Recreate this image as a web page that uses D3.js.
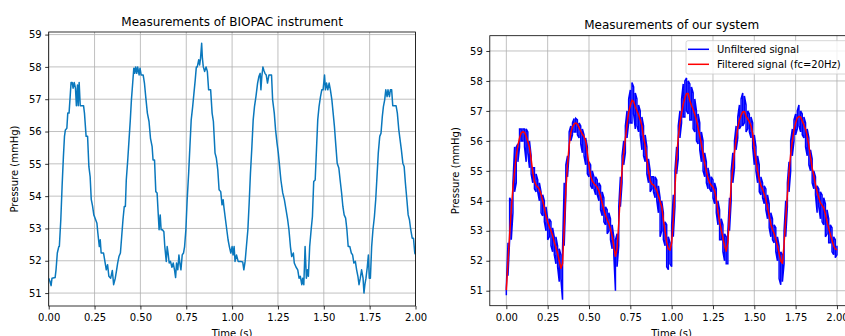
<!DOCTYPE html>
<html>
<head>
<meta charset="utf-8">
<script src="https://cdn.jsdelivr.net/npm/d3@7"></script>
<style>
  body { margin: 0; background: #fff; }
  svg { display: block; font-family: "DejaVu Sans", sans-serif; }
</style>
</head>
<body>
<div id="chart"></div>
<script>
// BIOPAC instrument
const biopacTime = [
  0.000, 0.007, 0.013, 0.018, 0.035, 0.040, 0.047, 0.055, 0.058, 0.066, 0.073, 0.080, 0.086, 0.091, 0.099,
  0.104, 0.111, 0.117, 0.122, 0.128, 0.133, 0.139, 0.146, 0.151, 0.157, 0.161, 0.166, 0.172, 0.190, 0.195,
  0.204, 0.212, 0.219, 0.226, 0.232, 0.239, 0.246, 0.254, 0.263, 0.268, 0.276, 0.281, 0.286, 0.299, 0.308,
  0.314, 0.321, 0.328, 0.338, 0.347, 0.354, 0.363, 0.370, 0.376, 0.383, 0.391, 0.398, 0.405, 0.412, 0.418,
  0.423, 0.431, 0.438, 0.445, 0.451, 0.458, 0.464, 0.469, 0.474, 0.480, 0.485, 0.493, 0.498, 0.504, 0.515,
  0.522, 0.529, 0.538, 0.547, 0.555, 0.564, 0.569, 0.577, 0.584, 0.591, 0.597, 0.602, 0.608, 0.613, 0.620,
  0.628, 0.633, 0.641, 0.646, 0.651, 0.657, 0.664, 0.672, 0.679, 0.686, 0.692, 0.697, 0.704, 0.710, 0.715,
  0.721, 0.728, 0.735, 0.741, 0.748, 0.755, 0.763, 0.770, 0.777, 0.785, 0.792, 0.799, 0.805, 0.810, 0.818,
  0.823, 0.828, 0.834, 0.838, 0.843, 0.850, 0.858, 0.865, 0.872, 0.883, 0.891, 0.898, 0.907, 0.914, 0.922,
  0.929, 0.938, 0.945, 0.951, 0.956, 0.964, 0.971, 0.978, 0.985, 0.993, 1.000, 1.005, 1.011, 1.016, 1.024,
  1.033, 1.047, 1.058, 1.064, 1.071, 1.078, 1.086, 1.093, 1.100, 1.108, 1.115, 1.122, 1.130, 1.139, 1.146,
  1.153, 1.157, 1.162, 1.168, 1.173, 1.179, 1.186, 1.193, 1.201, 1.208, 1.215, 1.221, 1.230, 1.237, 1.245,
  1.252, 1.259, 1.266, 1.276, 1.285, 1.294, 1.303, 1.310, 1.318, 1.325, 1.334, 1.339, 1.349, 1.358, 1.365,
  1.372, 1.380, 1.385, 1.391, 1.398, 1.405, 1.411, 1.416, 1.423, 1.431, 1.438, 1.445, 1.453, 1.460, 1.467,
  1.474, 1.482, 1.489, 1.496, 1.504, 1.509, 1.515, 1.522, 1.529, 1.536, 1.544, 1.551, 1.558, 1.566, 1.573,
  1.582, 1.589, 1.597, 1.604, 1.611, 1.619, 1.626, 1.633, 1.642, 1.650, 1.657, 1.664, 1.672, 1.679, 1.686,
  1.692, 1.699, 1.706, 1.714, 1.719, 1.724, 1.730, 1.737, 1.743, 1.748, 1.754, 1.761, 1.768, 1.776, 1.783,
  1.790, 1.797, 1.805, 1.812, 1.819, 1.825, 1.832, 1.838, 1.845, 1.850, 1.858, 1.863, 1.870, 1.876, 1.887,
  1.894, 1.901, 1.909, 1.916, 1.923, 1.931, 1.938, 1.945, 1.953, 1.960, 1.967, 1.974, 1.982, 1.989, 1.996,
  2.000
];
const biopacPressure = [
  51.46, 51.36, 51.23, 51.46, 51.48, 51.72, 52.24, 52.44, 52.44, 53.27, 54.30, 55.20, 55.85, 56.05, 56.10,
  56.57, 56.57, 57.08, 57.52, 57.52, 57.34, 57.52, 57.34, 56.80, 57.44, 56.80, 57.52, 56.80, 56.80, 56.57,
  55.85, 55.85, 54.92, 54.60, 53.90, 53.70, 53.42, 53.30, 53.16, 52.86, 52.44, 52.65, 52.24, 52.24, 51.93,
  51.72, 51.88, 51.52, 51.46, 51.70, 51.26, 51.46, 51.70, 51.93, 52.13, 52.24, 52.75, 53.27, 53.68, 53.68,
  54.50, 55.12, 55.74, 56.36, 56.98, 57.50, 57.96, 57.80, 58.00, 57.80, 58.00, 57.75, 57.96, 57.75, 57.75,
  57.50, 57.08, 56.57, 56.31, 55.79, 55.53, 55.12, 55.12, 54.14, 54.10, 53.47, 52.96, 53.42, 52.96, 52.96,
  52.90, 52.44, 51.98, 52.44, 52.24, 51.93, 51.98, 51.80, 51.93, 51.72, 51.48, 51.93, 51.72, 52.18, 51.93,
  51.72, 52.18, 52.24, 52.44, 52.96, 53.89, 54.70, 55.54, 56.36, 56.77, 57.19, 57.60, 58.00, 58.00, 58.22,
  58.06, 58.27, 58.73, 58.27, 58.00, 57.86, 58.00, 57.86, 57.29, 57.29, 56.57, 56.31, 55.33, 55.18, 54.81,
  54.20, 54.14, 53.73, 53.89, 53.63, 53.27, 52.96, 52.65, 52.44, 52.24, 52.44, 52.18, 52.44, 51.98, 52.18,
  51.98, 51.98, 51.96, 51.72, 51.98, 52.44, 52.96, 53.78, 54.70, 55.54, 56.36, 56.77, 57.08, 57.50, 57.70,
  57.80, 57.29, 57.70, 58.00, 57.90, 57.80, 57.75, 57.50, 57.75, 57.75, 57.75, 56.98, 56.57, 56.05, 55.64,
  55.33, 54.92, 54.50, 54.10, 53.89, 53.58, 53.27, 52.96, 52.44, 52.13, 52.24, 51.93, 51.80, 51.72, 51.46,
  51.52, 51.26, 51.46, 51.26, 52.44, 51.46, 51.72, 51.52, 52.44, 52.96, 53.37, 54.45, 54.50, 55.43, 56.36,
  56.77, 57.08, 57.29, 57.29, 57.75, 57.29, 57.50, 57.29, 57.50, 57.29, 56.98, 56.57, 56.15, 55.54, 55.02,
  54.87, 54.50, 54.10, 53.68, 53.42, 53.32, 52.96, 52.44, 52.44, 52.24, 52.18, 51.93, 51.98, 51.72, 51.52,
  51.26, 51.46, 51.72, 51.46, 51.00, 51.26, 51.46, 51.80, 52.18, 51.46, 51.46, 52.44, 52.96, 53.37, 53.89,
  54.60, 55.33, 55.85, 55.95, 56.46, 56.77, 56.98, 57.29, 57.08, 57.29, 57.08, 57.29, 57.29, 56.80, 56.80,
  56.80, 56.57, 56.05, 55.74, 55.43, 55.02, 54.92, 54.40, 53.89, 53.42, 53.27, 52.96, 52.70, 52.70, 52.24,
  52.20
];

// our system, sampled every 10 ms (0.00 .. 2.00 s)
const ourTime = d3.range(201).map(i => i / 100);
const filteredPressure = [
  51.02, 51.98, 52.88, 53.72, 54.45, 55.00, 55.50, 55.85, 56.10, 56.27,
  56.31, 56.28, 56.15, 55.98, 55.78, 55.40, 54.95, 54.65, 54.52, 54.46,
  54.38, 54.22, 54.00, 53.76, 53.50, 53.30, 53.14, 53.00, 52.84, 52.62,
  52.44, 52.25, 52.00, 51.75, 51.90, 53.10, 54.35, 55.20, 55.85, 56.27,
  56.46, 56.56, 56.60, 56.56, 56.44, 56.33, 56.22, 56.14, 56.00, 55.60,
  55.20, 54.83, 54.66, 54.58, 54.52, 54.45, 54.33, 54.15, 53.92, 53.70,
  53.52, 53.37, 53.24, 53.05, 52.82, 52.50, 52.15, 52.40, 53.25, 54.25,
  55.03, 55.60, 56.07, 56.55, 56.95, 57.18, 57.36, 57.31, 57.14, 57.00,
  56.87, 56.70, 56.50, 56.10, 55.85, 55.40, 54.98, 54.68, 54.56, 54.53,
  54.45, 54.34, 54.16, 53.98, 53.80, 53.36, 53.00, 52.62, 52.40, 52.35,
  52.60, 53.36, 54.40, 55.45, 56.12, 56.59, 56.94, 57.22, 57.43, 57.58,
  57.58, 57.34, 57.18, 57.05, 56.88, 56.70, 56.44, 56.17, 55.90, 55.56,
  55.24, 54.98, 54.75, 54.60, 54.52, 54.45, 54.32, 54.05, 53.65, 53.30,
  53.03, 52.77, 52.50, 52.32, 52.62, 53.55, 54.55, 55.10, 55.62, 56.06,
  56.43, 56.70, 56.85, 56.97, 56.98, 56.82, 56.73, 56.64, 56.50, 56.25,
  55.75, 55.36, 55.00, 54.70, 54.50, 54.38, 54.22, 54.05, 53.78, 53.50,
  53.22, 53.04, 52.90, 52.72, 52.50, 52.25, 52.00, 51.91, 52.55, 53.40,
  54.20, 54.97, 55.55, 56.00, 56.36, 56.60, 56.77, 56.81, 56.80, 56.66,
  56.53, 56.39, 56.15, 55.85, 55.45, 55.10, 54.84, 54.55, 54.30, 54.10,
  53.93, 53.85, 53.76, 53.55, 53.30, 53.08, 52.88, 52.68, 52.50, 52.40,
  52.36
];
// unfiltered signal: lowest and highest excursion seen in each 10 ms slot
const unfilteredLow = [
  50.85, 51.5, 52.7, 52.7, 53.6, 54.3, 54.6, 55.3, 55.8, 56.0,
  56.0, 55.8, 55.3, 55.6, 55.1, 54.9, 54.6, 54.4, 54.3, 54.3,
  54.0, 53.6, 53.5, 53.3, 53.0, 52.7, 52.8, 52.5, 52.3, 52.2,
  51.9, 51.8, 51.3, 51.4, 50.7, 52.5, 54.2, 54.8, 55.6, 56.0,
  56.2, 56.3, 56.3, 56.2, 56.1, 55.9, 55.6, 55.5, 55.2, 54.9,
  54.8, 54.5, 54.4, 54.4, 54.2, 54.2, 54.0, 53.7, 53.5, 53.3,
  53.2, 52.9, 53.0, 52.7, 52.4, 52.2, 51.0, 51.8, 52.5, 53.8,
  54.6, 55.2, 55.6, 56.1, 56.6, 56.6, 56.6, 56.9, 56.4, 56.5,
  56.3, 56.2, 55.7, 55.5, 55.3, 54.9, 54.6, 54.3, 54.4, 54.3,
  54.1, 54.0, 53.6, 52.8, 53.0, 52.7, 52.5, 51.8, 51.7, 51.9,
  51.8, 52.8, 53.8, 54.9, 55.4, 56.1, 56.6, 56.8, 56.8, 57.0,
  56.9, 56.7, 56.7, 56.4, 56.3, 56.0, 55.9, 55.7, 55.3, 55.0,
  54.8, 54.6, 54.4, 54.4, 54.3, 54.1, 53.9, 53.6, 53.2, 52.7,
  52.7, 52.3, 52.0, 51.9, 51.9, 53.0, 54.0, 54.6, 55.1, 55.7,
  56.1, 56.4, 56.5, 56.5, 56.6, 56.3, 56.4, 56.3, 56.1, 55.8,
  55.2, 55.0, 54.6, 54.3, 54.2, 54.1, 53.9, 53.7, 53.4, 53.1,
  52.8, 52.7, 52.6, 52.3, 52.0, 51.4, 51.2, 51.3, 51.9, 52.8,
  53.8, 54.3, 55.0, 55.5, 56.0, 56.2, 56.4, 56.5, 56.3, 56.2,
  56.1, 55.8, 55.5, 55.2, 55.0, 54.6, 54.4, 54.2, 53.6, 53.8,
  53.4, 53.3, 53.2, 52.8, 52.9, 52.6, 52.6, 52.3, 52.2, 52.1,
  52.2
];
const unfilteredHigh = [
  51.1, 52.6, 54.1, 54.0, 54.6, 55.8, 55.8, 55.9, 56.4, 56.4,
  56.4, 56.4, 56.4, 56.3, 56.0, 55.5, 55.1, 55.1, 54.9, 54.7,
  54.6, 54.3, 54.2, 54.0, 53.8, 53.4, 53.4, 53.3, 53.1, 52.8,
  52.8, 52.5, 52.4, 52.2, 52.4, 54.6, 55.2, 55.5, 56.3, 56.5,
  56.6, 56.75, 56.75, 56.7, 56.6, 56.5, 56.4, 56.2, 56.1, 55.8,
  55.3, 55.2, 55.0, 54.8, 54.8, 54.7, 54.6, 54.5, 54.3, 54.1,
  53.8, 53.7, 53.6, 53.4, 53.2, 52.8, 52.7, 52.9, 53.8, 54.8,
  55.5, 56.0, 56.5, 57.0, 57.4, 57.7, 57.95, 57.8, 57.6, 57.4,
  57.2, 57.0, 56.8, 56.5, 56.2, 55.8, 55.4, 55.0, 54.8, 54.8,
  54.8, 54.7, 54.5, 54.1, 54.0, 53.6, 53.3, 53.2, 52.8, 52.6,
  53.2, 54.2, 55.0, 55.8, 56.5, 57.0, 57.4, 57.9, 58.0, 58.1,
  58.0, 57.9, 57.8, 57.6, 57.4, 57.0, 56.9, 56.6, 56.3, 56.0,
  55.6, 55.3, 55.1, 54.8, 54.8, 54.7, 54.6, 54.4, 54.0, 53.7,
  53.4, 53.2, 52.9, 52.8, 53.0, 54.1, 55.0, 55.6, 56.0, 56.5,
  56.8, 57.2, 57.4, 57.6, 57.5, 57.2, 57.0, 56.9, 56.8, 56.6,
  56.2, 55.8, 55.5, 55.2, 54.8, 54.6, 54.5, 54.4, 54.2, 53.9,
  53.6, 53.4, 53.2, 53.1, 52.8, 52.5, 52.3, 52.2, 53.0, 54.0,
  54.6, 55.3, 56.0, 56.4, 56.7, 56.9, 57.0, 57.2, 57.0, 56.9,
  56.8, 56.6, 56.4, 56.1, 55.7, 55.4, 55.0, 54.8, 54.5, 54.4,
  54.3, 54.2, 54.1, 53.9, 53.7, 53.4, 53.2, 53.1, 52.8, 52.7,
  52.5
];

const timeTicks = [0, 0.25, 0.5, 0.75, 1, 1.25, 1.5, 1.75, 2];
const pressureTicks = [51, 52, 53, 54, 55, 56, 57, 58, 59];
const legendLabels = ['Unfiltered signal', 'Filtered signal (fc=20Hz)'];

const W = 845, H = 336;
const svg = d3.select('#chart').append('svg').attr('width', W).attr('height', H);

function panel(box, xDom, yDom, title, titleY) {
  const x = d3.scaleLinear().domain(xDom).range([box.l, box.r]);
  const y = d3.scaleLinear().domain(yDom).range([box.b, box.t]);
  const g = svg.append('g');
  const clipId = 'clip' + Math.round(box.l);
  g.append('clipPath').attr('id', clipId).append('rect')
    .attr('x', box.l).attr('y', box.t).attr('width', box.r - box.l).attr('height', box.b - box.t);

  // grid
  g.append('g').selectAll('line').data(timeTicks).enter().append('line')
    .attr('x1', d => x(d)).attr('x2', d => x(d)).attr('y1', box.t).attr('y2', box.b)
    .attr('stroke', '#b0b0b0').attr('stroke-width', 0.8);
  g.append('g').selectAll('line').data(pressureTicks).enter().append('line')
    .attr('x1', box.l).attr('x2', box.r).attr('y1', d => y(d)).attr('y2', d => y(d))
    .attr('stroke', '#b0b0b0').attr('stroke-width', 0.8);

  const plot = g.append('g').attr('clip-path', `url(#${clipId})`);

  // axes
  const xAxis = d3.axisBottom(x).tickValues(timeTicks).tickFormat(d3.format('.2f'))
    .tickSize(3.5).tickPadding(3.5);
  const yAxis = d3.axisLeft(y).tickValues(pressureTicks).tickFormat(d3.format('d'))
    .tickSize(3.5).tickPadding(3.5);
  const gx = g.append('g').attr('transform', `translate(0,${box.b})`).call(xAxis);
  const gy = g.append('g').attr('transform', `translate(${box.l},0)`).call(yAxis);
  [gx, gy].forEach(a => {
    a.select('.domain').remove();
    a.selectAll('line').attr('stroke', '#000').attr('stroke-width', 0.8);
    a.selectAll('text').attr('font-size', 10).attr('fill', '#000')
      .attr('font-family', '"DejaVu Sans", sans-serif');
  });
  gx.selectAll('text').attr('dy', null).attr('y', 15);

  g.append('rect').attr('x', box.l).attr('y', box.t)
    .attr('width', box.r - box.l).attr('height', box.b - box.t)
    .attr('fill', 'none').attr('stroke', '#000').attr('stroke-width', 0.8);

  g.append('text').attr('x', (box.l + box.r) / 2).attr('y', titleY)
    .attr('text-anchor', 'middle').attr('font-size', 12).text(title);
  g.append('text').attr('x', (box.l + box.r) / 2).attr('y', 337)
    .attr('text-anchor', 'middle').attr('font-size', 10).text('Time (s)');
  g.append('text')
    .attr('transform', `translate(${box.l - 31},${(box.t + box.b) / 2}) rotate(-90)`)
    .attr('text-anchor', 'middle').attr('font-size', 10).text('Pressure (mmHg)');
  return { x, y, plot };
}

// left: BIOPAC
const left = panel({ l: 48.7, r: 415.5, t: 32, b: 306 }, [0, 2], [50.6, 59.08],
  'Measurements of BIOPAC instrument', 25.5);
left.plot.append('path')
  .datum(d3.zip(biopacTime, biopacPressure))
  .attr('fill', 'none').attr('stroke', '#0a78bd').attr('stroke-width', 1.5)
  .attr('stroke-linejoin', 'round')
  .attr('d', d3.line().x(d => left.x(d[0])).y(d => left.y(d[1])));

// right: our system
const right = panel({ l: 489.8, r: 853.5, t: 35.7, b: 305.7 }, [-0.1, 2.1], [50.5, 59.51],
  'Measurements of our system', 29);
const zig = [];
ourTime.forEach((t, i) => {
  if (i % 2 === 0) { zig.push([t, unfilteredLow[i]], [t, unfilteredHigh[i]]); }
  else { zig.push([t, unfilteredHigh[i]], [t, unfilteredLow[i]]); }
});
right.plot.append('path').datum(zig)
  .attr('fill', 'none').attr('stroke', '#0000ff').attr('stroke-width', 1.5)
  .attr('d', d3.line().x(d => right.x(d[0])).y(d => right.y(d[1])));
right.plot.append('path').datum(d3.zip(ourTime, filteredPressure))
  .attr('fill', 'none').attr('stroke', '#ff0000').attr('stroke-width', 1.5)
  .attr('stroke-linejoin', 'round')
  .attr('d', d3.line().x(d => right.x(d[0])).y(d => right.y(d[1])));

// legend
const leg = svg.append('g');
leg.append('rect').attr('x', 686).attr('y', 40.7).attr('width', 162).attr('height', 33.3)
  .attr('rx', 2).attr('fill', '#fff').attr('fill-opacity', 0.8)
  .attr('stroke', '#cccccc').attr('stroke-width', 0.8);
const legColors = ['#0000ff', '#ff0000'];
legendLabels.forEach((lab, i) => {
  const cy = 49.3 + i * 15;
  leg.append('line').attr('x1', 688).attr('x2', 709).attr('y1', cy).attr('y2', cy)
    .attr('stroke', legColors[i]).attr('stroke-width', 1.5);
  leg.append('text').attr('x', 717).attr('y', cy + 3.6).attr('font-size', 10).text(lab);
});
</script>
</body>
</html>
